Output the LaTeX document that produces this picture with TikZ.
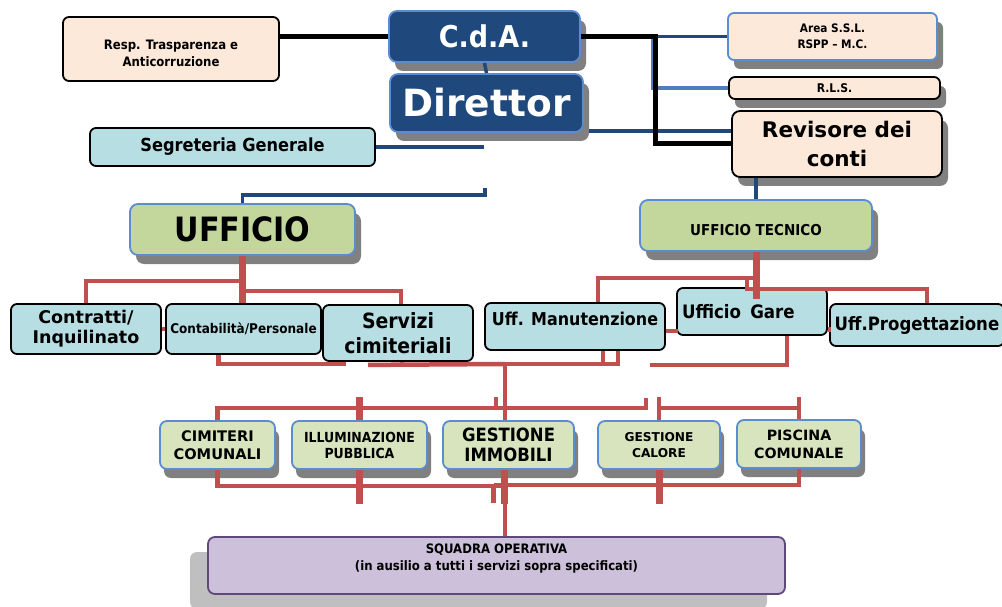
\documentclass[tikz,border=0pt]{standalone}
\usepackage{fontspec}
\setmainfont{DejaVu Sans}
\newfontfamily\cond{DejaVu Sans Condensed}
\usetikzlibrary{calc,shadows,positioning}
\definecolor{cdaNavy}{HTML}{1F497D}
\definecolor{cdaEdge}{HTML}{5B8BD0}
\definecolor{respPeach}{HTML}{FDE9D9}
\definecolor{segCyan}{HTML}{B7DEE2}
\definecolor{uffGreen}{HTML}{C3D69B}
\definecolor{servGreen}{HTML}{D7E4BD}
\definecolor{squLilac}{HTML}{CCC0DA}
\definecolor{squEdge}{HTML}{5F497A}
\definecolor{linkRed}{HTML}{C0504D}
\definecolor{shadeGray}{HTML}{808080}
\definecolor{shadeLight}{HTML}{BFBFBF}
\newcommand{\fsz}[2]{\fontsize{#1}{#2}\selectfont}
\tikzstyle{boxbase} = [rectangle, inner sep=0pt, align=center, font=\bfseries, line width=1.8pt]
\tikzstyle{darkshadow} = [drop shadow={shadow xshift=6pt, shadow yshift=-9pt, fill=shadeGray, opacity=1}]
\tikzstyle{navybox} = [boxbase, rounded corners=8pt, draw=cdaEdge, fill=cdaNavy, text=white, darkshadow]
\tikzstyle{peachbox} = [boxbase, rounded corners=6pt, draw=black, fill=respPeach]
\tikzstyle{cyanbox} = [boxbase, rounded corners=6pt, draw=black, fill=segCyan]
\tikzstyle{uffbox} = [boxbase, rounded corners=8pt, draw=cdaEdge, fill=uffGreen, darkshadow]
\tikzstyle{servbox} = [boxbase, rounded corners=7pt, draw=cdaEdge, fill=servGreen, drop shadow={shadow xshift=4pt, shadow yshift=-9pt, fill=shadeGray, opacity=1}]
\tikzstyle{squbox} = [boxbase, rounded corners=7pt, draw=squEdge, fill=squLilac, drop shadow={shadow xshift=-18pt, shadow yshift=-15pt, fill=shadeLight, opacity=1}]
\tikzstyle{blkline} = [line width=5pt, black]
\tikzstyle{dblline} = [line width=3.5pt, cdaNavy]
\tikzstyle{lblline} = [line width=3.5pt, cdaEdge!90!black]
\tikzstyle{redline} = [line width=4.5pt, linkRed]
\tikzstyle{redthick} = [line width=7pt, linkRed]

\begin{document}
\begin{tikzpicture}[x=1pt, y=-1pt]
    \useasboundingbox (0,0) rectangle (1002,607);

    %% top level
    \node[peachbox, minimum width=216, minimum height=64, text height=36pt, font=\cond\bfseries\fsz{13}{17.5}] (resp) at (171,49) {Resp. Trasparenza e\\Anticorruzione};
    \node[navybox, minimum width=191, minimum height=51, font=\cond\bfseries\fsz{30}{32}] (cda) at (484.5,36.5) {C.d.A.};
    \node[navybox, minimum width=193, minimum height=58, font=\bfseries\fsz{37.5}{40}] (dir) at (486.5,103) {Direttor};
    \node[peachbox, draw=cdaEdge, darkshadow, minimum width=209, minimum height=47, font=\cond\bfseries\fsz{11.7}{16}] (area) at (832.5,36.5) {Area S.S.L.\\RSPP – M.C.};
    \node[peachbox, darkshadow, minimum width=211, minimum height=22, font=\cond\bfseries\fsz{12}{13}] (rls) at (834.5,88) {R.L.S.};
    \node[peachbox, rounded corners=8pt, darkshadow, minimum width=210, minimum height=66, font=\bfseries\fsz{21.5}{29}] (rev) at (837,144) {Revisore dei\\conti};
    \node[cyanbox, minimum width=285, minimum height=38, font=\cond\bfseries\fsz{18}{20}] (seg) at (232.5,147) {Segreteria Generale};

    %% offices
    \node[uffbox, minimum width=225, minimum height=51, font=\cond\bfseries\fsz{33.5}{36}] (uff) at (242.5,229.5) {UFFICIO};
    \node[uffbox, minimum width=232, minimum height=51, text height=20pt, font=\cond\bfseries\fsz{15}{17}] (ut) at (756,225.5) {UFFICIO TECNICO};
    \node[cyanbox, minimum width=150, minimum height=50, font=\bfseries\fsz{17.5}{20}] (contr) at (86,329) {Contratti/\\Inquilinato};
    \node[cyanbox, minimum width=155, minimum height=50, font=\cond\bfseries\fsz{13.4}{15}] (conta) at (243.5,329) {Contabilità/Personale};
    \node[cyanbox, minimum width=150, minimum height=56, font=\cond\bfseries\fsz{21}{25}] (serv) at (398,333) {Servizi\\cimiteriali};
    \node[cyanbox, minimum width=180, minimum height=47, text depth=15pt, font=\cond\bfseries\fsz{17.7}{19}] (manu) at (575,326.5) {Uff. Manutenzione};
    \node[cyanbox, minimum width=150, minimum height=47, text width=140pt, align=left, font=\cond\bfseries\fsz{18.5}{20}] (gare) at (752,311.5) {Ufficio\ \,Gare};
    \node[cyanbox, minimum width=174, minimum height=42, font=\cond\bfseries\fsz{18.4}{20}] (prog) at (917,325) {Uff.Progettazione};

    %% services
    \node[servbox, minimum width=115, minimum height=48, font=\bfseries\fsz{14.6}{18}] (cim) at (217.5,445) {CIMITERI\\COMUNALI};
    \node[servbox, minimum width=135, minimum height=48, font=\cond\bfseries\fsz{13.9}{16}] (ill) at (359.5,445) {ILLUMINAZIONE\\PUBBLICA};
    \node[servbox, minimum width=131, minimum height=48, font=\cond\bfseries\fsz{18.3}{20}] (gi) at (508.5,445) {GESTIONE\\IMMOBILI};
    \node[servbox, minimum width=122, minimum height=48, font=\bfseries\fsz{12.2}{16}] (gc) at (659,445) {GESTIONE\\CALORE};
    \node[servbox, minimum width=124, minimum height=48, font=\bfseries\fsz{14.2}{18}] (pis) at (799,444) {PISCINA\\COMUNALE};
    \node[squbox, minimum width=577, minimum height=57, text depth=17pt, font=\cond\bfseries\fsz{13}{17}] (squ) at (496.5,565.5) {SQUADRA OPERATIVA\\(in ausilio a tutti i servizi sopra specificati)};

    %% blue links
    \coordinate (jA) at (655,90);
    \coordinate (jL) at (653,36.5);
    \coordinate (jD) at (589,131);
    \coordinate (jS) at (484,147);
    \coordinate (jU) at (485,188);
    \draw[dblline] (jA |- area.west) -- (area.west);
    \draw[lblline] (jL) |- (rls.west);
    \draw[dblline] (jD) -- (jD -| rev.west);
    \draw[dblline] (cda.south) -- (dir.north);
    \draw[dblline] (seg.east) -- (jS);
    \draw[dblline] (jU) -- ++(0,7) -| (uff.north);
    \draw[dblline] (rev.south -| ut.north) -- (ut.north);

    %% black links
    \draw[blkline] (resp.east |- cda.west) -- (cda.west);
    \draw[blkline] (cda.east) -| (jA) |- (rev.west);

    %% UFFICIO
    \draw[redthick] (uff.south) -- (uff.south |- conta.north);
    \draw[redline] (uff.south) ++(0,25) -| (contr.north);
    \draw[redline] (uff.south) ++(-3,35) -| ($(serv.north)+(3,0)$);
    \draw[redline] (contr.east) -- (conta.west);
    \draw[redline] ($(conta.south)+(-25,0)$) |- ++(127,9);
    \coordinate (hub) at (505,364);
    \draw[redline] ($(serv.south)+(4,0)$) -- ++(0,4);
    \draw[redline] ($(serv.south)+(-30,3)$) -- (hub);
    \draw[redline] (hub) -- (hub |- gi.north);

    %% UFFICIO TECNICO
    \draw[redthick] (ut.south) -- ($(ut.south |- gare.north)+(0,12)$);
    \draw[redline] (ut.south) ++(0,26) -| ($(manu.north)+(23,0)$);
    \draw[redline] (ut.south) ++(-9,26) -- ++(0,11) -| ($(prog.north)+(10,0)$);
    \draw[redline] ($(manu.east)+(0,4.5)$) -- ++(12,0);
    \draw[redline] ($(gare.east)+(0,18)$) -- ++(3,0);
    \draw[redline] ($(manu.south)+(28,0)$) |- ($(manu.south)+(-95,13)$);
    \draw[redline] ($(manu.south)+(43,0)$) |- ($(manu.south)+(28,13)$);
    \draw[redline] ($(gare.south)+(35,0)$) |- ($(gare.south)+(-102,29)$);

    %% services bus
    \coordinate (busA) at (646,408);
    \coordinate (busB) at (505,486);
    \draw[redline] (cim.north) |- (busA) -- ++(0,-10);
    \draw[redthick] (ill.north) -- ++(0,-23);
    \draw[redline] ($(gi.north)+(-12.5,-11)$) -- ++(0,-12);
    \draw[redline] (gc.north) -- ++(0,-23);
    \draw[redline] (gc.north |- busA) -- (pis.north |- busA);
    \draw[redline] (pis.north) -- ++(0,-22);
    \draw[redline] (cim.south) |- (busB);
    \draw[redthick] (ill.south) -- ++(0,34);
    \draw[redthick] ($(gi.south)+(-4,0)$) -- ++(0,34);
    \draw[redline] ($(gi.south)+(-15,15)$) -- ++(0,18);
    \draw[redline] ($(gi.south)+(-15,15)$) -| (pis.south);
    \draw[redthick] (gc.south) -- ++(0,34);
    \draw[redline] (busB) -- (busB |- squ.north);
\end{tikzpicture}
\end{document}
